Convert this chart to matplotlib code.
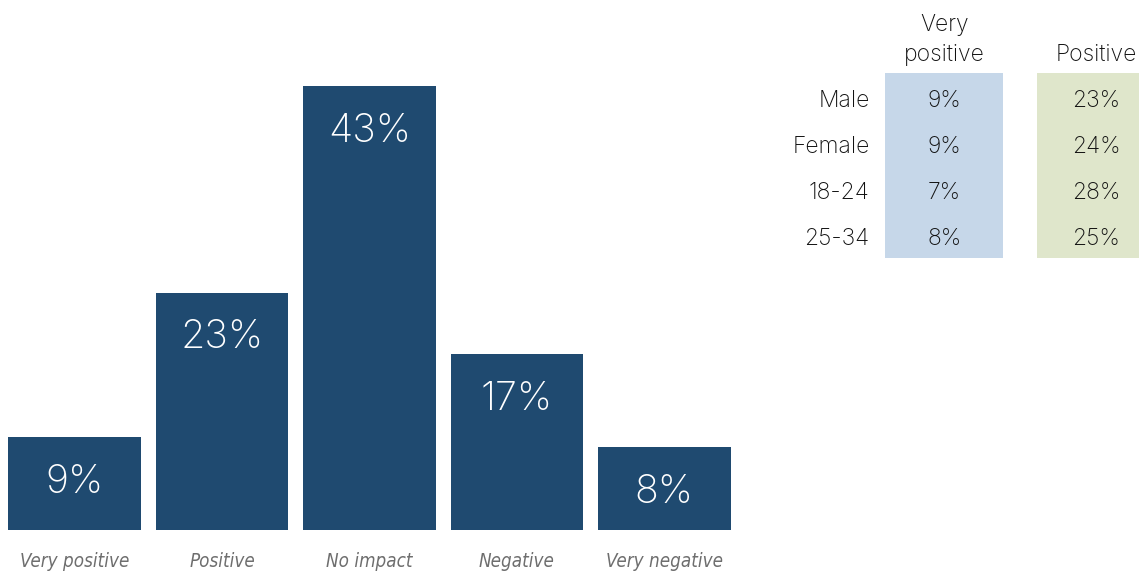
import numpy as np
import matplotlib.pyplot as plt

# overall impact distribution
categories = ['Very positive', 'Positive', 'No impact', 'Negative', 'Very negative']
shares = [9, 23, 43, 17, 8]

# breakdown by group
groups = ['Male', 'Female', '18-24', '25-34']
col_headers = ['Very\npositive', 'Positive']
very_positive = [9, 9, 7, 8]
positive = [23, 24, 28, 25]

bar_color = '#1f4a70'
col_colors = ['#c6d7e9', '#dfe6cb']
num_font = ['Inter', 'DejaVu Sans']

W, H = 1139, 573
fig = plt.figure(figsize=(W / 100, H / 100), dpi=100)

# bar chart
ax = fig.add_axes([1 / W, 43 / H, 737 / W, 444 / H])
x = np.arange(len(categories))
ax.bar(x, shares, width=0.9, color=bar_color)
ax.set_xlim(-0.5, len(categories) - 0.5)
ax.set_ylim(0, max(shares))
for xi, v in zip(x, shares):
    ax.annotate(f'{v}%', (xi, v), xytext=(0, -45), textcoords='offset pixels',
                ha='center', va='center', color='white', fontsize=28.5,
                family=num_font, fontweight='light')
ax.set_xticks(x)
ax.set_xticklabels(categories, fontsize=13.5, style='italic', color='#6e6e6e',
                   family='DejaVu Sans', fontstretch='condensed')
ax.tick_params(axis='x', length=0, pad=16)
ax.set_yticks([])
for s in ax.spines.values():
    s.set_visible(False)

# side table
tx = fig.add_axes([716 / W, 303 / H, 423 / W, 270 / H])
tx.set_xlim(-1.5, 1.28)
tx.set_ylim(3.72, -2.15)
tx.axis('off')
tx.bar([0, 1], 4.03, bottom=-0.57, width=0.776, color=col_colors)
txt = dict(fontsize=16.5, family=num_font, fontweight='light', color='#111111')
for j, head in enumerate(col_headers):
    tx.text(j, -0.72, head, ha='center', va='bottom', linespacing=1.45, **txt)
for i, g in enumerate(groups):
    tx.text(-0.49, i + 0.04, g, ha='right', va='center', **txt)
    for j, vals in enumerate([very_positive, positive]):
        tx.text(j, i + 0.04, f'{vals[i]}%', ha='center', va='center', **txt)

fig.savefig('out.png', dpi=100)
